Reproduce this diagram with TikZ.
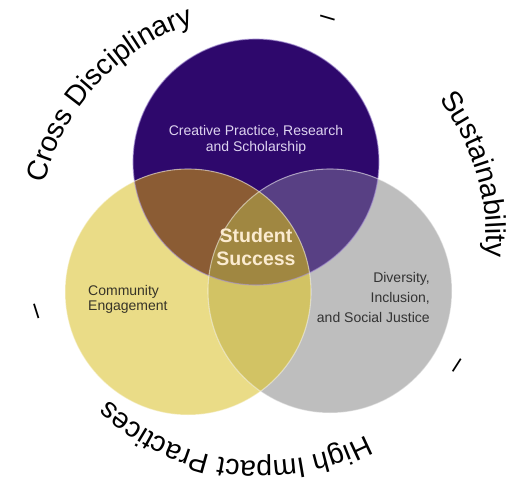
\documentclass[tikz,border=0pt]{standalone}
\usepackage{fontspec}
\setmainfont{Liberation Sans}
\usetikzlibrary{decorations.text,calc}
\definecolor{cpurple}{RGB}{46,8,108}
\definecolor{cyellow}{RGB}{234,220,135}
\definecolor{cgray}{RGB}{190,190,190}
\definecolor{cpy}{RGB}{139,92,52}
\definecolor{cpg}{RGB}{88,64,132}
\definecolor{cyg}{RGB}{210,195,100}
\definecolor{cpyg}{RGB}{160,135,65}
\definecolor{ctxtlav}{RGB}{222,212,240}
\definecolor{ctxtcream}{RGB}{251,235,208}
\definecolor{ctxtdark}{RGB}{55,52,40}
\definecolor{crimp}{RGB}{170,150,215}
\tikzset{
  rimline/.style={draw=white, draw opacity=0.45, line width=1.1pt},
  arctext/.style={decorate, decoration={text along path, text align=center, text={|\fontsize{28.5}{28.5}\selectfont|#1}}},
  dashmark/.style={font=\fontsize{27}{27}\selectfont, inner sep=0pt, anchor=base},
  smalltext/.style={inner sep=0pt, font=\fontsize{14}{#1}\selectfont}
}
\begin{document}
\begin{tikzpicture}[x=1pt,y=1pt]
\useasboundingbox (0,0) rectangle (520,-485);
\coordinate (P) at (256,-162);
\coordinate (Y) at (188,-292);
\coordinate (G) at (330,-291);
\coordinate (O) at (262,-237);
\coordinate (Od) at (262,-240);
% base circles
\fill[cpurple] (P) circle (123pt);
\fill[cyellow] (Y) circle (123pt);
\fill[cgray] (G) circle (122pt);
% pairwise intersections
\begin{scope}\clip (P) circle (123pt); \fill[cpy] (Y) circle (123pt);\end{scope}
\begin{scope}\clip (P) circle (123pt); \fill[cpg] (G) circle (122pt);\end{scope}
\begin{scope}\clip (Y) circle (123pt); \fill[cyg] (G) circle (122pt);\end{scope}
\begin{scope}\clip (P) circle (123pt); \clip (Y) circle (123pt); \fill[cpyg] (G) circle (122pt);\end{scope}
% rims
\path[rimline, draw=crimp, draw opacity=0.6] (P) circle (123pt);
\path[rimline] (Y) circle (123pt);
\path[rimline] (G) circle (122pt);
% labels
\node[smalltext=16, text=ctxtlav, align=center, anchor=north] (crea) at (256,-124.7) {Creative Practice, Research\\and Scholarship};
\node[inner sep=0pt, font=\fontsize{19.5}{23}\selectfont\bfseries, text=ctxtcream, align=center, anchor=north] (stud) at (256,-228) {Student\\Success};
\node[smalltext=15, text=ctxtdark, align=left, anchor=north west] (comm) at (88,-285) {Community\\Engagement};
\node[smalltext=20, text=black!80, align=right, anchor=north east] (dive) at (430,-271.7) {Diversity,\\Inclusion,\\and Social Justice};
% curved texts
\path[arctext={Cross Disciplinary}] (O) ++(180:224pt) arc[start angle=180, end angle=94, radius=224pt];
\path[arctext={Sustainability}] (O) ++(60:224pt) arc[start angle=60, end angle=-27.2, radius=224pt];
\path[arctext={High Impact Practices}] (O) ++(-40:224pt) arc[start angle=-40, end angle=-155.4, radius=224pt];
% separators
\node[dashmark, rotate=-16.4] (d1) at ($(Od)+(73.6:225pt)$) {–};
\node[dashmark, rotate=107.5] (d2) at ($(Od)+(197.5:229pt)$) {–};
\node[dashmark, rotate=-122.7] (d3) at ($(Od)+(-32.7:225pt)$) {–};
\end{tikzpicture}
\end{document}
